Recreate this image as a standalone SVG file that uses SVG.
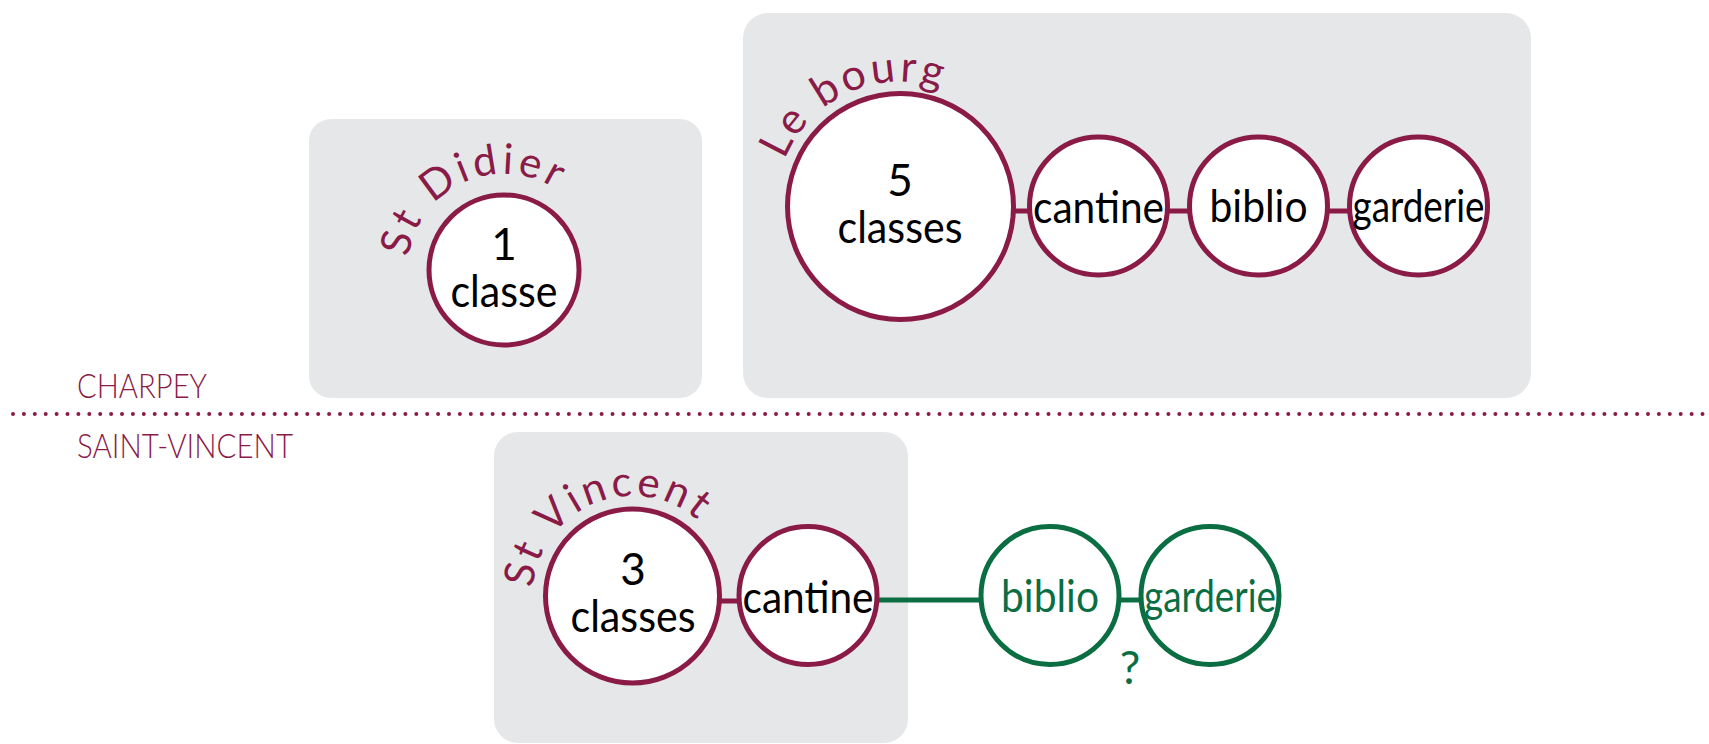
<svg xmlns="http://www.w3.org/2000/svg" width="1709" height="744" viewBox="0 0 1709 744">
<style>
.box{fill:#E6E7E9}
.m{fill:#fff;stroke:#8A1A46;stroke-width:5}
.g{fill:#fff;stroke:#0B6E43;stroke-width:5}
.lm{stroke:#8A1A46;stroke-width:5}
.lg{stroke:#0B6E43;stroke-width:5}
.t{font-family:Lato,"Open Sans",sans-serif;font-size:44px;fill:#000;text-anchor:middle}
.tg{font-family:Lato,"Open Sans",sans-serif;font-size:44px;fill:#0B6E43;text-anchor:middle}
.arc{font-family:Lato,"Open Sans",sans-serif;font-size:42px;fill:#8A1A46;text-anchor:middle}
.reg{font-family:Lato,"Open Sans",sans-serif;font-size:33px;font-weight:300;fill:#8A1A46}
</style>
<defs>
<path id="arcDidier" d="M413.2,301.3 A96,96 0 0 1 588.0,223.5"/>
<path id="arcBourg" d="M782.3,247.2 A125,125 0 0 1 1009.8,145.9"/>
<path id="arcVincent" d="M536.6,624.4 A100,100 0 0 1 722.0,551.4"/>
</defs>
<g id="regions">
<text class="reg" x="77" y="398" textLength="130" lengthAdjust="spacingAndGlyphs">CHARPEY</text>
<line x1="13" y1="414" x2="1704" y2="414" stroke="#8A1A46" stroke-width="4" stroke-linecap="round" stroke-dasharray="0 10.9"/>
<text class="reg" x="77" y="458" textLength="216" lengthAdjust="spacingAndGlyphs">SAINT-VINCENT</text>
</g>
<g id="box-stdidier"><rect class="box" x="309" y="119" width="393" height="279" rx="22"/></g>
<g id="box-lebourg"><rect class="box" x="743" y="13" width="788" height="385" rx="25"/></g>
<g id="box-stvincent"><rect class="box" x="494" y="432" width="414" height="311" rx="24"/></g>
<g id="connectors">
<line class="lm" x1="1012" y1="211" x2="1031" y2="211"/>
<line class="lm" x1="1166" y1="211" x2="1191" y2="211"/>
<line class="lm" x1="1326" y1="211" x2="1351" y2="211"/>
<line class="lm" x1="718" y1="601" x2="741" y2="601"/>
<line class="lg" x1="876" y1="600" x2="983" y2="600"/>
<line class="lg" x1="1117" y1="600" x2="1142" y2="600"/>
</g>
<g id="node-didier">
<circle class="m" cx="504" cy="270" r="75"/>
<text class="t" x="504" y="260">1</text>
<text class="t" x="504" y="307" textLength="107" lengthAdjust="spacingAndGlyphs">classe</text>
<text class="arc" letter-spacing="4"><textPath href="#arcDidier" startOffset="50%">St Didier</textPath></text>
</g>
<g id="node-bourg">
<circle class="m" cx="900.5" cy="206.5" r="113"/>
<text class="t" x="900" y="196">5</text>
<text class="t" x="900" y="243" textLength="125" lengthAdjust="spacingAndGlyphs">classes</text>
<text class="arc" style="font-size:43px" letter-spacing="3.5"><textPath href="#arcBourg" startOffset="50%">Le bourg</textPath></text>
</g>
<g id="node-bourg-cantine">
<circle class="m" cx="1098.5" cy="206" r="69"/>
<text class="t" x="1098.5" y="223" textLength="131" lengthAdjust="spacingAndGlyphs">cantine</text>
</g>
<g id="node-bourg-biblio">
<circle class="m" cx="1258.5" cy="206" r="69"/>
<text class="t" x="1258.5" y="222" textLength="98" lengthAdjust="spacingAndGlyphs">biblio</text>
</g>
<g id="node-bourg-garderie">
<circle class="m" cx="1418.5" cy="206" r="69"/>
<text class="t" x="1418.5" y="222" textLength="132" lengthAdjust="spacingAndGlyphs">garderie</text>
</g>
<g id="node-vincent">
<circle class="m" cx="632.5" cy="596" r="87"/>
<text class="t" x="633" y="585">3</text>
<text class="t" x="633" y="632" textLength="125" lengthAdjust="spacingAndGlyphs">classes</text>
<text class="arc" letter-spacing="3.5"><textPath href="#arcVincent" startOffset="50%">St Vincent</textPath></text>
</g>
<g id="node-vincent-cantine">
<circle class="m" cx="808" cy="595.5" r="69"/>
<text class="t" x="808" y="613" textLength="131" lengthAdjust="spacingAndGlyphs">cantine</text>
</g>
<g id="node-vincent-biblio">
<circle class="g" cx="1050" cy="595.5" r="69"/>
<text class="tg" x="1050" y="612" textLength="98" lengthAdjust="spacingAndGlyphs">biblio</text>
</g>
<g id="node-vincent-garderie">
<circle class="g" cx="1210" cy="595.5" r="69"/>
<text class="tg" x="1210" y="612" textLength="132" lengthAdjust="spacingAndGlyphs">garderie</text>
</g>
<g id="question">
<text class="tg" x="1130" y="684" style="font-size:46px">?</text>
</g>
</svg>
